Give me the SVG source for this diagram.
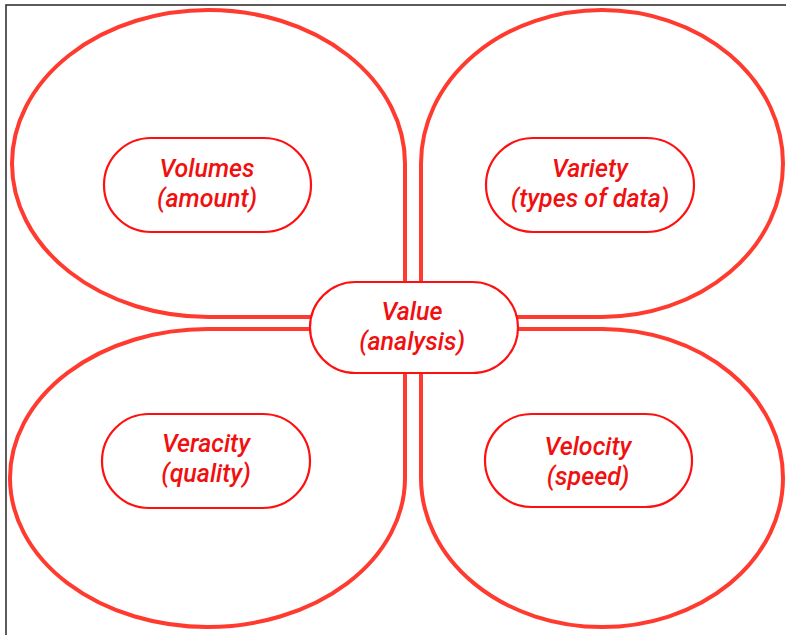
<svg xmlns="http://www.w3.org/2000/svg" width="786" height="635" viewBox="0 0 786 635">
<style>
.petal{fill:#fff;stroke:#ff3b2f;stroke-width:4}
.pill{fill:#fff;stroke:#ff1010;stroke-width:2.2}
.t{font-family:Roboto,"Liberation Sans",sans-serif;font-style:italic;font-weight:500;font-size:25px;fill:#f01010;text-anchor:middle}
</style>
<rect x="0" y="0" width="786" height="635" fill="#fff"/>
<rect x="6" y="5" width="800" height="660" fill="none" stroke="#333" stroke-width="1.6"/>
<g id="petals">
<path id="petal-tl" class="petal" d="M405 163.5 A196.5 153.5 0 1 0 208.5 317 L405 317 Z"/>
<path id="petal-tr" class="petal" d="M421 163.5 A181 153.5 0 1 1 602 317 L421 317 Z"/>
<path id="petal-bl" class="petal" d="M207.5 329 A197.5 149 0 1 0 405 478 L405 329 Z"/>
<path id="petal-br" class="petal" d="M602 329 A181 149 0 1 1 421 478 L421 329 Z"/>
</g>
<g id="volumes">
<rect class="pill" x="104" y="138" width="207" height="94" rx="47"/>
<text class="t" x="207" y="177">Volumes</text>
<text class="t" x="207" y="207">(amount)</text>
</g>
<g id="variety">
<rect class="pill" x="486" y="138" width="208" height="94" rx="47"/>
<text class="t" x="590" y="177">Variety</text>
<text class="t" x="590" y="207">(types of data)</text>
</g>
<g id="value">
<rect class="pill" x="310" y="282" width="208" height="91" rx="45.5"/>
<text class="t" x="412" y="320">Value</text>
<text class="t" x="412" y="350">(analysis)</text>
</g>
<g id="veracity">
<rect class="pill" x="102" y="414" width="208" height="94" rx="47"/>
<text class="t" x="206" y="452">Veracity</text>
<text class="t" x="206" y="482">(quality)</text>
</g>
<g id="velocity">
<rect class="pill" x="485" y="414" width="207" height="93" rx="46.5"/>
<text class="t" x="588" y="455">Velocity</text>
<text class="t" x="588" y="485">(speed)</text>
</g>
</svg>
